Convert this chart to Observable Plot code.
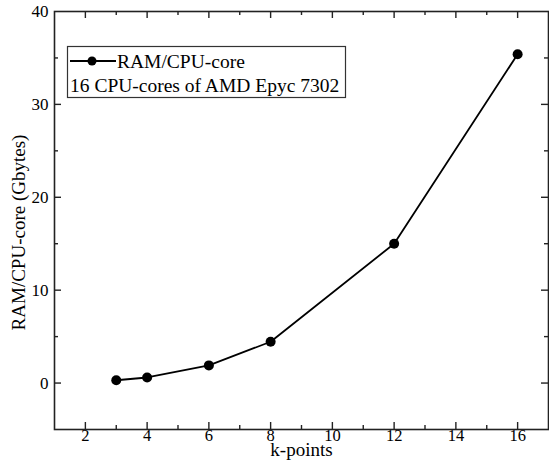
<!DOCTYPE html>
<html>
<head>
<meta charset="utf-8">
<script src="https://cdn.jsdelivr.net/npm/d3@7"></script>
<script src="https://cdn.jsdelivr.net/npm/@observablehq/plot@0.6"></script>
<style>
  html, body { margin: 0; padding: 0; background: #fff; }
  #chart svg { display: block; }
  #chart svg, #chart svg text { font-family: "Liberation Serif", "Times New Roman", serif !important; }
</style>
</head>
<body>
<div id="chart"></div>
<script>
const kpoints = [3, 4, 6, 8, 12, 16];
const ramPerCore = [0.3, 0.6, 1.9, 4.45, 15.0, 35.4];
const xMajor = [2, 4, 6, 8, 10, 12, 14, 16];
const xMinor = [3, 5, 7, 9, 11, 13, 15];
const xLabels = [2, 4, 6, 8, 10, 12, 14, 16];
const yMajor = [0, 10, 20, 30];
const yMinor = [5, 15, 25, 35];
const yLabels = [0, 10, 20, 30, 40];
const seriesName = "RAM/CPU-core";
const legendNote = "16 CPU-cores of AMD Epyc 7302";
const xTitle = "k-points";
const yTitle = "RAM/CPU-core (Gbytes)";

const data = kpoints.map((k, i) => ({k, v: ramPerCore[i]}));

const W = 549, H = 462;
const mL = 54, mR = 1, mT = 11, mB = 33;
const plotW = W - mL - mR, plotH = H - mT - mB;
const font = "Liberation Serif";
const majorLen = 7, minorLen = 4;
const tickStyle = {stroke: "#222", strokeWidth: 1.4};

const chart = Plot.plot({
  width: W, height: H,
  marginLeft: mL, marginRight: mR, marginTop: mT, marginBottom: mB,
  style: {fontSize: "17px", color: "#000", background: "#fff"},
  x: {domain: [1, 17], label: null},
  y: {domain: [-5, 40], label: null},
  marks: [
    Plot.frame({stroke: "#222", strokeWidth: 1.6}),
    Plot.tickX(xMajor, {x: d => d, insetTop: plotH - majorLen, ...tickStyle}),
    Plot.tickX(xMinor, {x: d => d, insetTop: plotH - minorLen, ...tickStyle}),
    Plot.tickX(xMajor, {x: d => d, insetBottom: plotH - majorLen, ...tickStyle}),
    Plot.tickX(xMinor, {x: d => d, insetBottom: plotH - minorLen, ...tickStyle}),
    Plot.tickY(yMajor, {y: d => d, insetRight: plotW - majorLen, ...tickStyle}),
    Plot.tickY(yMinor, {y: d => d, insetRight: plotW - minorLen, ...tickStyle}),
    Plot.tickY(yMajor, {y: d => d, insetLeft: plotW - majorLen, ...tickStyle}),
    Plot.tickY(yMinor, {y: d => d, insetLeft: plotW - minorLen, ...tickStyle}),
    Plot.axisX({ticks: xLabels, tickSize: 0, tickPadding: 0, fontSize: 16.5, fontFamily: font, tickFormat: d => d, label: null}),
    Plot.axisY({ticks: yLabels, tickSize: 0, tickPadding: 6, fontSize: 17, fontFamily: font, tickFormat: d => d, label: null}),
    Plot.text([xTitle], {frameAnchor: "bottom", textAnchor: "middle", dy: 26, fontSize: 19, fontFamily: font, text: d => d}),
    Plot.text([yTitle], {frameAnchor: "left", textAnchor: "middle", dx: -36, dy: 12, rotate: -90, fontSize: 19, fontFamily: font, text: d => d}),
    Plot.line(data, {x: "k", y: "v", stroke: "#000", strokeWidth: 1.8}),
    Plot.dot(data, {x: "k", y: "v", r: 5, fill: "#000", stroke: "none"})
  ]
});

// legend box
const svg = d3.select(chart);
const g = svg.append("g").attr("font-family", font).attr("font-size", 19.5).attr("text-anchor", "start");
g.append("rect").attr("x", 67.5).attr("y", 46.5).attr("width", 278).attr("height", 51)
  .attr("fill", "#fff").attr("stroke", "#333").attr("stroke-width", 1.2);
g.append("line").attr("x1", 70).attr("x2", 116).attr("y1", 61).attr("y2", 61)
  .attr("stroke", "#000").attr("stroke-width", 1.8);
g.append("circle").attr("cx", 92).attr("cy", 61).attr("r", 4.5).attr("fill", "#000");
g.append("text").attr("x", 117).attr("y", 67.5).attr("text-anchor", "start").text(seriesName);
g.append("text").attr("x", 70).attr("y", 92).attr("text-anchor", "start").text(legendNote);

document.getElementById("chart").appendChild(chart);
</script>
</body>
</html>
